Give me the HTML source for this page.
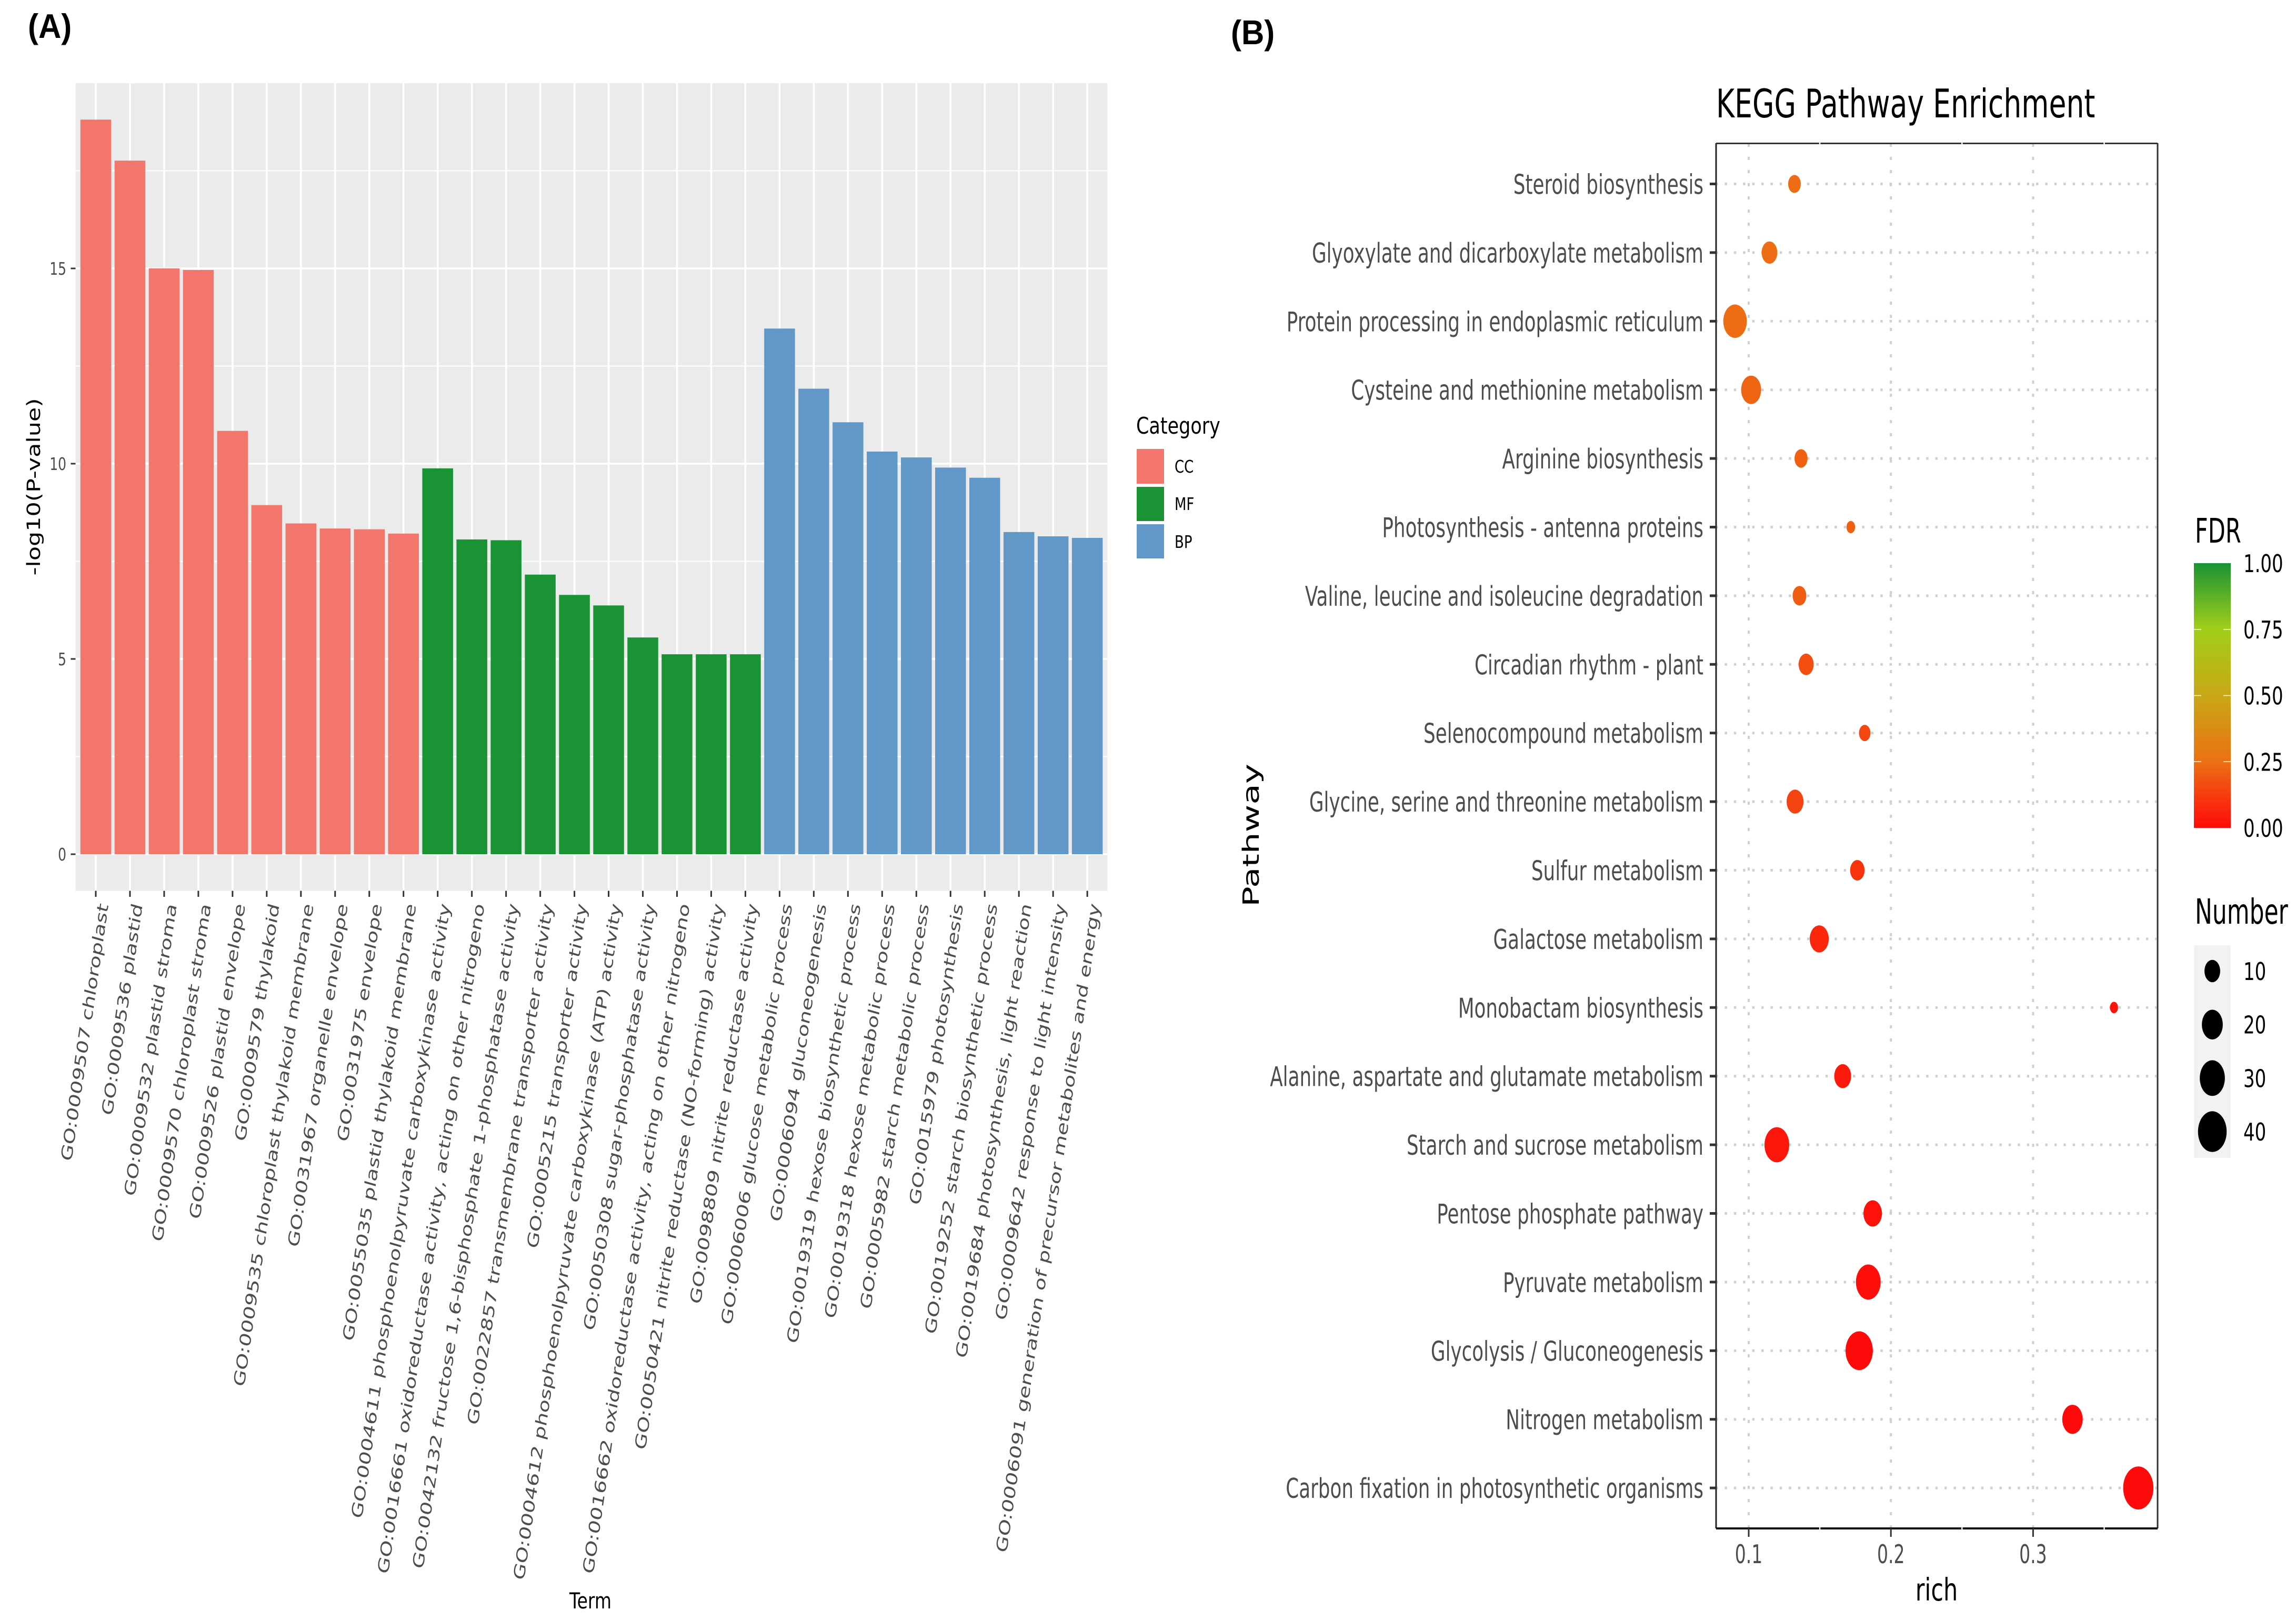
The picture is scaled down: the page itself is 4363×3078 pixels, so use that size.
<!DOCTYPE html>
<html lang="en">
<head>
<meta charset="utf-8">
<title>GO and KEGG enrichment</title>
<style>
html,body{margin:0;padding:0;background:#fff;}
svg{display:block;}
text{font-family:"DejaVu Sans","Liberation Sans",sans-serif;}
</style>
</head>
<body>
<svg id="fig" xmlns="http://www.w3.org/2000/svg" width="4363" height="3078" viewBox="0 0 4363 3078">
<defs>
<linearGradient id="fdr-grad" x1="0" y1="1" x2="0" y2="0">
<stop offset="0" stop-color="#ff0a0a"/>
<stop offset="0.25" stop-color="#ec7014"/>
<stop offset="0.5" stop-color="#c8a816"/>
<stop offset="0.75" stop-color="#a2ce1a"/>
<stop offset="1" stop-color="#1a9334"/>
</linearGradient>
</defs>
<rect x="0" y="0" width="4363" height="3078" fill="#ffffff"/>

<text transform="translate(53,72) scale(1,1.08)" font-size="60" font-weight="700" style="font-family:'Liberation Sans',sans-serif" fill="#000">(A)</text>
<text transform="translate(2339,84) scale(1,1.08)" font-size="60" font-weight="700" style="font-family:'Liberation Sans',sans-serif" fill="#000">(B)</text>

<g id="chart-a">
<rect x="143.5" y="158" width="1961" height="1534.5" fill="#ebebeb"/>
<g id="a-grid"></g>
<g id="a-bars"></g>
<g id="a-yaxis"></g>
<g id="a-xaxis"></g>
<text transform="translate(76,925) scale(1,1.27) rotate(-90)" text-anchor="middle" font-size="35" fill="#000">-log10(P-value)</text>
<text transform="translate(1122,3056) scale(1,1.27)" text-anchor="middle" font-size="33" fill="#000">Term</text>

<g>
<text transform="translate(2159,824) scale(1,1.25)" font-size="35" fill="#000">Category</text>
<rect x="2160" y="853" width="52" height="66" fill="#f3766c"/>
<rect x="2160" y="925" width="52" height="65" fill="#1a9334"/>
<rect x="2160" y="996" width="52" height="65" fill="#6198c7"/>
<text transform="translate(2232,898) scale(1,1.28)" font-size="26" fill="#000">CC</text>
<text transform="translate(2232,969) scale(1,1.28)" font-size="26" fill="#000">MF</text>
<text transform="translate(2232,1041) scale(1,1.28)" font-size="26" fill="#000">BP</text>
</g>
</g>

<g id="chart-b">
<text transform="translate(3261,223) scale(1,1.39)" font-size="53.6" fill="#000">KEGG Pathway Enrichment</text>
<g id="b-grid"></g>
<g id="b-dots"></g>
<g id="b-frame">
<line x1="3261" y1="272" x2="3261" y2="2904" stroke="#222" stroke-width="3"/>
<line x1="4100" y1="272" x2="4100" y2="2904" stroke="#333" stroke-width="3"/>
<line x1="3261" y1="272.5" x2="4100" y2="272.5" stroke="#333" stroke-width="3"/>
<line x1="3261" y1="2904" x2="4100" y2="2904" stroke="#111" stroke-width="4"/>
</g>
<g id="b-breaks"></g>
<g id="b-yaxis"></g>
<g id="b-xaxis"></g>
<text transform="translate(2392,1587) scale(1,1.5) rotate(-90)" text-anchor="middle" font-size="43" fill="#000">Pathway</text>
<text transform="translate(3680,3041) scale(1,1.37)" text-anchor="middle" font-size="43" fill="#000">rich</text>

<g>
<text transform="translate(4171,1031) scale(1,1.5)" font-size="43" fill="#000">FDR</text>
<rect x="4169" y="1070" width="70" height="503" fill="url(#fdr-grad)"/>
<g id="fdr-ticks"></g>
</g>
<g>
<text transform="translate(4171,1755) scale(1,1.5)" font-size="44" fill="#000">Number</text>
<rect x="4169" y="1796" width="70" height="404" fill="#f2f2f2"/>
<g id="size-keys"></g>
</g>
</g>
</svg>

<script>
// ---- Panel A data ----
const terms = [
"GO:0009507 chloroplast","GO:0009536 plastid","GO:0009532 plastid stroma","GO:0009570 chloroplast stroma",
"GO:0009526 plastid envelope","GO:0009579 thylakoid","GO:0009535 chloroplast thylakoid membrane",
"GO:0031967 organelle envelope","GO:0031975 envelope","GO:0055035 plastid thylakoid membrane",
"GO:0004611 phosphoenolpyruvate carboxykinase activity","GO:0016661 oxidoreductase activity, acting on other nitrogeno",
"GO:0042132 fructose 1,6-bisphosphate 1-phosphatase activity","GO:0022857 transmembrane transporter activity",
"GO:0005215 transporter activity","GO:0004612 phosphoenolpyruvate carboxykinase (ATP) activity",
"GO:0050308 sugar-phosphatase activity","GO:0016662 oxidoreductase activity, acting on other nitrogeno",
"GO:0050421 nitrite reductase (NO-forming) activity","GO:0098809 nitrite reductase activity",
"GO:0006006 glucose metabolic process","GO:0006094 gluconeogenesis","GO:0019319 hexose biosynthetic process",
"GO:0019318 hexose metabolic process","GO:0005982 starch metabolic process","GO:0015979 photosynthesis",
"GO:0019252 starch biosynthetic process","GO:0019684 photosynthesis, light reaction",
"GO:0009642 response to light intensity","GO:0006091 generation of precursor metabolites and energy"];
const pValues = [18.81,17.76,15.0,14.96,10.84,8.94,8.47,8.34,8.32,8.21,
9.88,8.06,8.04,7.16,6.64,6.37,5.55,5.12,5.12,5.12,
13.46,11.92,11.06,10.31,10.16,9.9,9.64,8.25,8.14,8.1];
const barCategories = ["CC","CC","CC","CC","CC","CC","CC","CC","CC","CC",
"MF","MF","MF","MF","MF","MF","MF","MF","MF","MF",
"BP","BP","BP","BP","BP","BP","BP","BP","BP","BP"];
const aYTicks = [0,5,10,15];
const aYMinor = [2.5,7.5,12.5,17.5];

// ---- Panel B data ----
const pathways = ["Steroid biosynthesis","Glyoxylate and dicarboxylate metabolism","Protein processing in endoplasmic reticulum",
"Cysteine and methionine metabolism","Arginine biosynthesis","Photosynthesis - antenna proteins",
"Valine, leucine and isoleucine degradation","Circadian rhythm - plant","Selenocompound metabolism",
"Glycine, serine and threonine metabolism","Sulfur metabolism","Galactose metabolism","Monobactam biosynthesis",
"Alanine, aspartate and glutamate metabolism","Starch and sucrose metabolism","Pentose phosphate pathway",
"Pyruvate metabolism","Glycolysis / Gluconeogenesis","Nitrogen metabolism","Carbon fixation in photosynthetic organisms"];
const richValues = [0.1322,0.1146,0.0904,0.1017,0.1368,0.1718,0.1357,0.1404,0.1816,0.1326,
0.1764,0.1496,0.3569,0.1661,0.1198,0.1872,0.1841,0.1777,0.3277,0.374];
const numbers = [5.5,10,26,18,6,1,7,9,4,12,8,16,0.5,12,29,15,29,36,19,45];
const fdrValues = [0.24,0.24,0.24,0.22,0.21,0.21,0.2,0.17,0.15,0.14,0.1,0.07,0.02,0.04,0.03,0.02,0.01,0,0,0];
const bXTicks = [0.1,0.2,0.3];
const bXMinor = [0.15,0.25,0.35];
const fdrTicks = [0,0.25,0.5,0.75,1];
const sizeTicks = [10,20,30,40];

const NS = "http://www.w3.org/2000/svg";
function make(tag, attrs, parent, txt) {
  const el = document.createElementNS(NS, tag);
  for (const k in attrs) el.setAttribute(k, attrs[k]);
  if (txt !== undefined) el.textContent = txt;
  parent.appendChild(el);
  return el;
}
const $ = id => document.getElementById(id);

// Panel A scales
const aBand = 64.97, aX0 = 182, aY0 = 1623, aUnit = 74.2;
const ax = i => aX0 + i * aBand;
const ay = v => aY0 - v * aUnit;
const catColor = {CC:"#f3766c", MF:"#1a9334", BP:"#6198c7"};

aYMinor.forEach(v => {
  const el = make("line", {x1:143.5,x2:2104.5,y1:ay(v),y2:ay(v),stroke:"#fff","stroke-width":2}, $("a-grid"));
  
  
});
aYTicks.forEach(v => {
  const el = make("line", {x1:143.5,x2:2104.5,y1:ay(v),y2:ay(v),stroke:"#fff","stroke-width":3.5}, $("a-grid"));
  
  
});
terms.forEach((t, i) => {
  const el = make("line", {x1:ax(i),x2:ax(i),y1:158,y2:1692.5,stroke:"#fff","stroke-width":3.5}, $("a-grid"));
  
  
});
pValues.forEach((v, i) => {
  const el = make("rect", {x:ax(i)-29.25,y:ay(v),width:58.5,height:aY0-ay(v),fill:catColor[barCategories[i]]}, $("a-bars"));
  
  
});
aYTicks.forEach(v => {
  const tick = make("line", {x1:134.5,x2:143.5,y1:ay(v),y2:ay(v),stroke:"#333","stroke-width":3}, $("a-yaxis"));
  
  
  const lab = make("text", {transform:`translate(126,${ay(v)+12}) scale(1,1.3)`,"text-anchor":"end","font-size":25,fill:"#4d4d4d"}, $("a-yaxis"), String(v));
  
  
});
terms.forEach((t, i) => {
  const tick = make("line", {x1:ax(i),x2:ax(i),y1:1692.5,y2:1704,stroke:"#333","stroke-width":3}, $("a-xaxis"));
  
  
  const lab = make("text", {transform:`translate(${ax(i)+24},1720) scale(1,1.412) rotate(-78.5)`,"text-anchor":"end","font-size":29,fill:"#4d4d4d"}, $("a-xaxis"), t);
  
  
});

// Panel B scales
const bx = r => 3323 + (r - 0.1) * 2702;
const by = i => 349.5 + i * 130.4;
const rx = n => Math.sqrt(50 + 17.3 * n);
const ASPECT = 1.42;
const stops = [[0,[255,10,10]],[0.25,[236,112,20]],[0.5,[200,168,22]],[0.75,[162,206,26]],[1,[26,147,52]]];
function fdrColor(v) {
  for (let s = 1; s < stops.length; s++) {
    if (v <= stops[s][0]) {
      const a = stops[s-1], b = stops[s], t = (v - a[0]) / (b[0] - a[0]);
      const c = a[1].map((u, j) => Math.round(u + (b[1][j] - u) * t));
      return `rgb(${c[0]},${c[1]},${c[2]})`;
    }
  }
  return "rgb(26,147,52)";
}
bXTicks.forEach(v => {
  const el = make("line", {x1:bx(v),x2:bx(v),y1:273,y2:2904,stroke:"#d0d0d0","stroke-width":4,"stroke-dasharray":"6 19"}, $("b-grid"));
  
  
});
pathways.forEach((p, i) => {
  const el = make("line", {x1:3260,x2:4098,y1:by(i),y2:by(i),stroke:"#d0d0d0","stroke-width":5,"stroke-dasharray":"4.5 12.9"}, $("b-grid"));
  
  
});
pathways.forEach((p, i) => {
  const r = rx(numbers[i]);
  const dot = make("ellipse", {cx:bx(richValues[i]),cy:by(i),rx:r,ry:r*ASPECT,fill:fdrColor(fdrValues[i])}, $("b-dots"));
  
  
  const tick = make("line", {x1:3249,x2:3261,y1:by(i),y2:by(i),stroke:"#333","stroke-width":5}, $("b-yaxis"));
  
  
  const lab = make("text", {transform:`translate(3237,${by(i)+19}) scale(1,1.45)`,"text-anchor":"end","font-size":35.75,fill:"#4d4d4d"}, $("b-yaxis"), p);
  
  
});
bXMinor.forEach(v => {
  const top = make("line", {x1:bx(v),x2:bx(v),y1:269,y2:276,stroke:"#fff","stroke-width":2.5}, $("b-breaks"));
  
  
  const bot = make("line", {x1:bx(v),x2:bx(v),y1:2901,y2:2907,stroke:"#fff","stroke-width":2.5}, $("b-breaks"));
  
  
});
bXTicks.forEach(v => {
  const tick = make("line", {x1:bx(v),x2:bx(v),y1:2904,y2:2920,stroke:"#333","stroke-width":3}, $("b-xaxis"));
  
  
  const lab = make("text", {transform:`translate(${bx(v)},2970) scale(1,1.48)`,"text-anchor":"middle","font-size":33,fill:"#4d4d4d"}, $("b-xaxis"), v.toFixed(1));
  
  
});

// Legends
const fy = v => 1573 - v * 503;
fdrTicks.forEach(v => {
  if (v > 0 && v < 1) {
    const l = make("line", {x1:4169,x2:4183,y1:fy(v),y2:fy(v),stroke:"#fff","stroke-width":1.5}, $("fdr-ticks"));
    
    
    const r = make("line", {x1:4225,x2:4239,y1:fy(v),y2:fy(v),stroke:"#fff","stroke-width":1.5}, $("fdr-ticks"));
    
    
  }
  const lab = make("text", {transform:`translate(4263,${fy(v)+17}) scale(1,1.37)`,"font-size":34,fill:"#000"}, $("fdr-ticks"), v.toFixed(2));
  
  
});
const keyY = n => 1845 + (n - 10) * 10.17;
sizeTicks.forEach(n => {
  const r = rx(n);
  const dot = make("ellipse", {cx:4204,cy:keyY(n),rx:r,ry:r*ASPECT,fill:"#000"}, $("size-keys"));
  
  
  const lab = make("text", {transform:`translate(4263,${keyY(n)+17}) scale(1,1.37)`,"font-size":34,fill:"#000"}, $("size-keys"), String(n));
  
  
});
</script>
</body>
</html>
